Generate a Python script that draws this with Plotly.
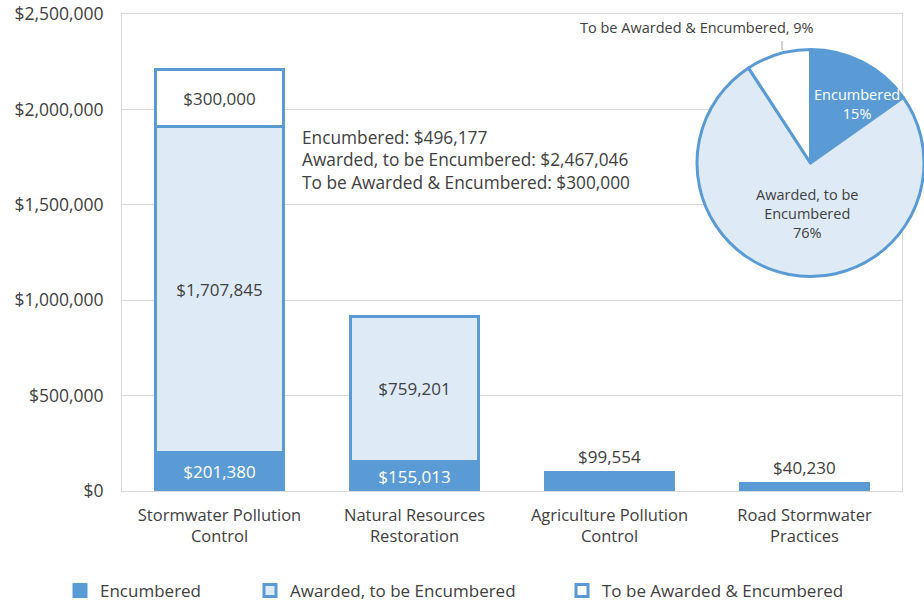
import plotly.graph_objects as go

categories = [
    "Stormwater Pollution<br>Control",
    "Natural Resources<br>Restoration",
    "Agriculture Pollution<br>Control",
    "Road Stormwater<br>Practices",
]
encumbered = [201380, 155013, 99554, 40230]
awarded = [1707845, 759201, None, None]
to_be_awarded = [300000, None, None, None]

series_names = ["Encumbered", "Awarded, to be Encumbered", "To be Awarded & Encumbered"]
pie_labels = ["Encumbered", "Awarded, to be<br>Encumbered", "To be Awarded & Encumbered"]
y_ticks = [0, 500000, 1000000, 1500000, 2000000, 2500000]

BLUE = "#5b9bd5"
LIGHT = "#deebf7"
TEXT = "#404040"
GRID = "#d9d9d9"
FONT = "Open Sans"
FS = 17

W, H = 924, 603
ML, MR, MT, MB = 122, 0, 14, 112
PW = W - ML - MR
PH = H - MT - MB


def money(v):
    return f"${v:,.0f}"


def px_x(p):
    return (p - ML) / PW


def px_y(p):
    return (H - MB - p) / PH


totals = [
    sum(v for v in col if v is not None)
    for col in (encumbered, awarded, to_be_awarded)
]
grand = sum(totals)
pcts = [round(100 * t / grand) for t in totals]

fig = go.Figure()

only_enc = [a is None and t is None for a, t in zip(awarded, to_be_awarded)]
fig.add_trace(go.Bar(
    x=categories, y=encumbered, name=series_names[0], legend="legend",
    marker=dict(color=BLUE, line=dict(color=BLUE, width=3)),
    text=["" if o else money(v) for v, o in zip(encumbered, only_enc)],
    textposition="inside", insidetextanchor="middle",
    textfont=dict(color="white", size=FS, family=FONT),
))
fig.add_trace(go.Bar(
    x=categories, y=awarded, name=series_names[1], legend="legend2",
    marker=dict(color=LIGHT, line=dict(color=BLUE, width=3)),
    text=[money(v) if v is not None else "" for v in awarded],
    textposition="inside", insidetextanchor="middle",
    textfont=dict(color=TEXT, size=FS, family=FONT),
))
fig.add_trace(go.Bar(
    x=categories, y=to_be_awarded, name=series_names[2], legend="legend3",
    marker=dict(color="white", line=dict(color=BLUE, width=3)),
    text=[money(v) if v is not None else "" for v in to_be_awarded],
    textposition="inside", insidetextanchor="middle",
    textfont=dict(color=TEXT, size=FS, family=FONT),
))

# inset pie of the totals, labels placed as annotations
fig.add_trace(go.Pie(
    labels=series_names, values=totals, sort=False, direction="clockwise",
    rotation=0, showlegend=False, textinfo="none",
    domain=dict(x=[px_x(697), 1.0], y=[px_y(278), px_y(48)]),
    marker=dict(colors=[BLUE, LIGHT, "white"], line=dict(color=BLUE, width=3)),
    hoverinfo="label+value+percent",
))

annotations = []
for cat, v, o in zip(categories, encumbered, only_enc):
    if o:
        annotations.append(dict(
            x=cat, y=v, xref="x", yref="y", text=money(v), showarrow=False,
            yanchor="bottom", yshift=2, font=dict(size=FS, color=TEXT, family=FONT),
        ))

summary = "<br>".join(f"{n}: {money(t)}" for n, t in zip(series_names, totals))
annotations.append(dict(
    x=px_x(300), y=px_y(124), xref="paper", yref="paper", text=summary,
    showarrow=False, xanchor="left", yanchor="top", align="left",
    font=dict(size=17.3, color=TEXT, family=FONT),
))
annotations.append(dict(
    x=px_x(857), y=px_y(104), xref="paper", yref="paper",
    xanchor="center", yanchor="middle",
    text=f"{pie_labels[0]}<br>{pcts[0]}%", showarrow=False,
    font=dict(size=14.5, color="white", family=FONT),
))
annotations.append(dict(
    x=px_x(807), y=px_y(213), xref="paper", yref="paper",
    xanchor="center", yanchor="middle",
    text=f"{pie_labels[1]}<br>{pcts[1]}%", showarrow=False,
    font=dict(size=14.5, color=TEXT, family=FONT),
))
annotations.append(dict(
    x=px_x(697), y=px_y(28), xref="paper", yref="paper",
    xanchor="center", yanchor="middle",
    text=f"{pie_labels[2]}, {pcts[2]}%", showarrow=False,
    font=dict(size=14.5, color=TEXT, family=FONT),
))

legend_common = dict(orientation="h", xref="container", yref="container",
                     yanchor="middle", y=1 - 591 / H,
                     font=dict(size=FS, color=TEXT, family=FONT),
                     bgcolor="rgba(0,0,0,0)")

fig.update_layout(
    width=W, height=H,
    margin=dict(l=ML, r=MR, t=MT, b=MB, autoexpand=False),
    paper_bgcolor="white", plot_bgcolor="white",
    barmode="stack", bargap=0.344,
    font=dict(family=FONT, size=FS, color=TEXT),
    uniformtext=dict(minsize=FS, mode="show"),
    xaxis=dict(domain=[0, (902 - ML) / PW], showgrid=False, showline=True,
               linecolor=GRID, mirror=True, ticks="", ticklabelstandoff=9,
               tickfont=dict(size=16.5, color=TEXT)),
    yaxis=dict(range=[0, 2500000], tickvals=y_ticks,
               ticktext=[money(v) for v in y_ticks], showgrid=True,
               gridcolor=GRID, showline=True, linecolor=GRID, mirror=True,
               zeroline=False, ticks="", ticklabelstandoff=14,
               tickfont=dict(size=17.5, color=TEXT)),
    legend=dict(x=60 / W, **legend_common),
    legend2=dict(x=250 / W, **legend_common),
    legend3=dict(x=562 / W, **legend_common),
    shapes=[dict(type="line", xref="paper", yref="paper",
                 x0=px_x(782), x1=px_x(782), y0=px_y(41), y1=px_y(50),
                 line=dict(color="#a6a6a6", width=1))],
    annotations=annotations,
)

fig.write_html("out.html", config={"displayModeBar": False},
               post_script="document.body.style.margin = '0';")
